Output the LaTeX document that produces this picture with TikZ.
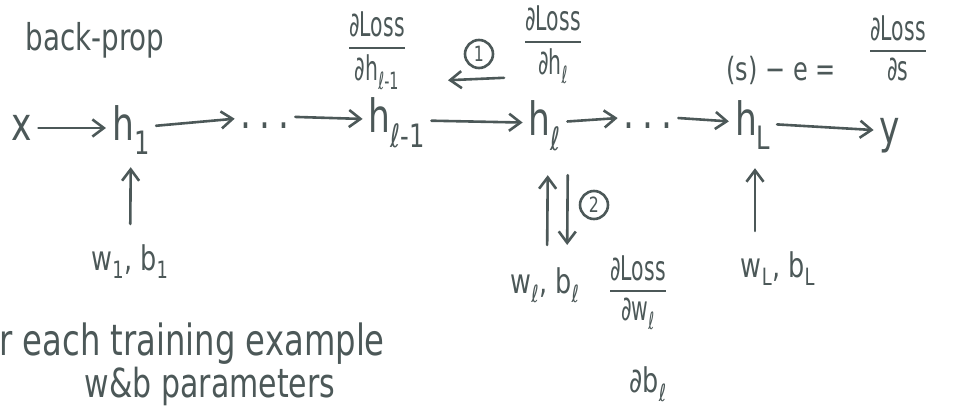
\documentclass[tikz,border=0pt]{standalone}
\usepackage{amsmath}
\usepackage{fontspec}
\setmainfont[FakeStretch=0.75]{DejaVu Sans}
\newfontfamily\narrowfont[FakeStretch=0.6]{DejaVu Sans}
\usetikzlibrary{arrows.meta}
\definecolor{inkgray}{RGB}{76,88,88}
\newcommand{\dfr}[2]{$\genfrac{}{}{2pt}{0}{\hbox{#1}}{\hbox{#2}}$}

\begin{document}
\begin{tikzpicture}[
    x=1pt, y=-1pt,
    every node/.style={text=inkgray, inner sep=2pt},
    var/.style={font=\fontsize{46}{50}\selectfont, text height=30pt, text depth=6pt, anchor=base},
    frac/.style={font=\narrowfont\fontsize{34}{36}\selectfont},
    param/.style={font=\fontsize{34}{36}\selectfont, anchor=base},
    note/.style={font=\fontsize{43}{46}\selectfont, anchor=base west},
    arrow/.style={-{Straight Barb[length=4mm, width=6mm]}, line width=2.6pt, draw=inkgray, line cap=round, shorten <=4pt, shorten >=4pt},
    stepmark/.style={circle, draw=inkgray, line width=2.6pt, minimum size=28pt, inner sep=0pt, font=\fontsize{21}{21}\selectfont}
]
\useasboundingbox (0,0) rectangle (953,410);

% Title
\node[font=\fontsize{37}{40}\selectfont, anchor=base] (title) at (95,50) {back-prop};

% Forward chain
\node[var] (x) at (22,140) {x};
\node[var] (h1) at (131,140) {h\textsubscript{1}};
\node[var] (dots1) at (265,128) {.\,.\,.};
\node[var] (hlm1) at (397,132) {h\textsubscript{ℓ-1}};
\node[var] (hl) at (545,135) {h\textsubscript{ℓ}};
\node[var] (dots2) at (648,128) {.\,.\,.};
\node[var] (hL) at (753,135) {h\textsubscript{L}};
\node[var] (y) at (890,143) {y};

% Gradients
\node[frac] (dhlm1) at (377,51) {\dfr{∂Loss}{∂h\textsubscript{ℓ-1}}};
\node[frac] (dhl) at (553,45) {\dfr{∂Loss}{∂h\textsubscript{ℓ}}};
\node[frac, font=\fontsize{32}{34}\selectfont, anchor=base] (serr) at (781,80) {(s) − e =};
\node[frac] (dloss) at (898,48) {\dfr{∂Loss}{∂s}};

% Parameters
\node[param] (wb1) at (130,270) {w\textsubscript{1}, b\textsubscript{1}};
\node[param] (wbl) at (545,293) {w\textsubscript{ℓ}, b\textsubscript{ℓ}};
\node[frac] (dwl) at (638,293) {\dfr{∂Loss}{∂w\textsubscript{ℓ}}};
\node[param] (dbl) at (648,392) {∂b\textsubscript{ℓ}};
\node[param] (wbL) at (778,277) {w\textsubscript{L}, b\textsubscript{L}};

% Notes
\node[note] (each) at (-3,355) {r each training example};
\node[note, font=\fontsize{40}{44}\selectfont, anchor=base] (wbpar) at (210,397) {w\&b parameters};

% Steps
\node[stepmark] (one) at (479,54) {1};
\node[stepmark] (two) at (594,205) {2};

% Forward arrows
\draw[arrow] (x) -- (h1);
\draw[arrow] (h1) -- (dots1);
\draw[arrow] (dots1) -- (hlm1);
\draw[arrow] (hlm1) -- (hl);
\draw[arrow] (hl) -- (dots2);
\draw[arrow] (dots2) -- (hL);
\draw[arrow] (hL) -- (y);

% Backward step 1
\draw[arrow, shorten <=18pt, shorten >=40pt] ([yshift=-32pt]dhl.west) -- ([yshift=-31pt]dhlm1.east);

% Parameter arrows
\draw[arrow, shorten <=18pt, shorten >=19pt] (wb1) -- (h1);
\draw[arrow, shorten <=20pt, shorten >=32pt] ([xshift=2pt]wbl.north) -- ([xshift=3pt]hl.south);
\draw[arrow, shorten <=32pt, shorten >=20pt] ([xshift=23pt]hl.south) -- ([xshift=22pt]wbl.north);
\draw[arrow, shorten <=18pt, shorten >=25pt] ([xshift=-23pt]wbL.north) -- ([xshift=2pt]hL.south);

\end{tikzpicture}
\end{document}
